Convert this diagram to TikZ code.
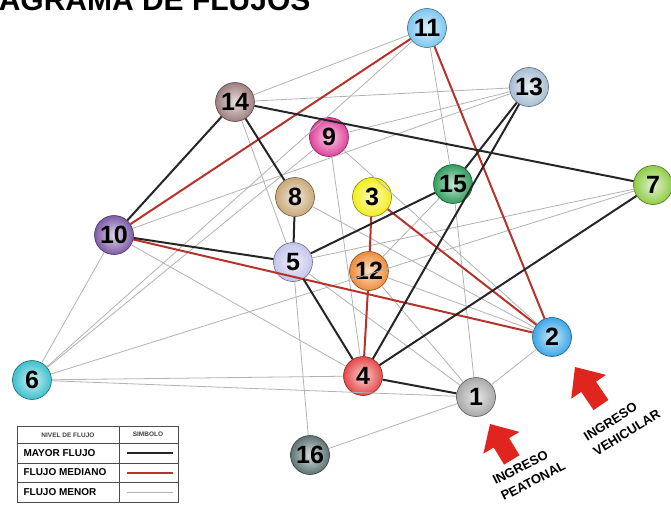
\documentclass[tikz,border=0pt]{standalone}
\usepackage{fontspec}
\setmainfont{Liberation Sans}

\definecolor{cUno}{HTML}{A8A8A8}
\definecolor{cDos}{HTML}{3BA7E6}
\definecolor{cTres}{HTML}{F2EE1A}
\definecolor{cCuatro}{HTML}{E54848}
\definecolor{cCinco}{HTML}{C4C4EC}
\definecolor{cSeis}{HTML}{3EC0CE}
\definecolor{cSiete}{HTML}{8FCC45}
\definecolor{cOcho}{HTML}{C9A878}
\definecolor{cNueve}{HTML}{E0429B}
\definecolor{cDiez}{HTML}{7E5CA6}
\definecolor{cOnce}{HTML}{7CC6F0}
\definecolor{cDoce}{HTML}{EE8C3C}
\definecolor{cTrece}{HTML}{A7BED2}
\definecolor{cCatorce}{HTML}{9E7E80}
\definecolor{cQuince}{HTML}{2E9E5C}
\definecolor{cDieciseis}{HTML}{5E7474}
\definecolor{rojoflujo}{HTML}{B8322C}
\definecolor{rojoflecha}{HTML}{E0241E}

\begin{document}
\begin{tikzpicture}[x=1pt,y=-1pt,
  esfera/.style={circle, minimum size=39pt, inner sep=0pt, shade,
    inner color=#1!25!white, outer color=#1, draw=#1!55!black, line width=0.6pt,
    font=\fontsize{25}{25}\selectfont\bfseries},
  mayor/.style={line width=2pt, black!85},
  mediano/.style={line width=2pt, rojoflujo},
  menor/.style={line width=0.8pt, black!30}]
\useasboundingbox (0,0) rectangle (671,506);

\node[anchor=base east, font=\fontsize{30}{30}\selectfont\bfseries] (titulo) at (314,10) {DIAGRAMA DE FLUJOS};

% nodos
\node[esfera=cUno] (n1) at (476,397) {1};
\node[esfera=cDos] (n2) at (552,337) {2};
\node[esfera=cTres] (n3) at (372,197) {3};
\node[esfera=cCuatro] (n4) at (363,376) {4};
\node[esfera=cCinco] (n5) at (293,262) {5};
\node[esfera=cSeis] (n6) at (32,380) {6};
\node[esfera=cSiete] (n7) at (653,185) {7};
\node[esfera=cOcho] (n8) at (295,197) {8};
\node[esfera=cNueve] (n9) at (329,137) {9};
\node[esfera=cDiez] (n10) at (114,235) {10};
\node[esfera=cOnce] (n11) at (427,28) {11};
\node[esfera=cDoce] (n12) at (369,271) {12};
\node[esfera=cTrece] (n13) at (529,87) {13};
\node[esfera=cCatorce] (n14) at (235,102) {14};
\node[esfera=cQuince] (n15) at (453,184) {15};
\node[esfera=cDieciseis] (n16) at (310,455) {16};

% flujo menor
\draw[menor] (n14) -- (n11);
\draw[menor] (n14) -- (n13);
\draw[menor] (n14) -- (n5);
\draw[menor] (n11) -- (n15);
\draw[menor] (n11) -- (n6);
\draw[menor] (n10) -- (n13);
\draw[menor] (n10) -- (n6);
\draw[menor] (n10) -- (n4);
\draw[menor] (n9) -- (n6);
\draw[menor] (n6) -- (n7);
\draw[menor] (n6) -- (n4);
\draw[menor] (n6) -- (n1);
\draw[menor] (n7) -- (n5);
\draw[menor] (n9) -- (n4);
\draw[menor] (n9) -- (n2);
\draw[menor] (n9) -- (n13);
\draw[menor] (n8) -- (n2);
\draw[menor] (n5) -- (n16);
\draw[menor] (n5) -- (n1);
\draw[menor] (n12) -- (n15);
\draw[menor] (n12) -- (n1);
\draw[menor] (n12) -- (n2);
\draw[menor] (n15) -- (n1);
\draw[menor] (n1) -- (n2);
\draw[menor] (n1) -- (n16);

% flujo mediano
\draw[mediano] (n10) -- (n11);
\draw[mediano] (n11) -- (n2);
\draw[mediano] (n10) -- (n2);
\draw[mediano] (n3) -- (n12);
\draw[mediano] (n12) -- (n4);
\draw[mediano] (n3) -- (n2);

% mayor flujo
\draw[mayor] (n14) -- (n10);
\draw[mayor] (n14) -- (n7);
\draw[mayor] (n14) -- (n8);
\draw[mayor] (n8) -- (n5);
\draw[mayor] (n10) -- (n5);
\draw[mayor] (n5) -- (n15);
\draw[mayor] (n5) -- (n4);
\draw[mayor] (n13) -- (n15);
\draw[mayor] (n13) -- (n4);
\draw[mayor] (n4) -- (n7);
\draw[mayor] (n4) -- (n1);

% ingresos
\fill[rojoflecha] (490,424) -- (519.4,431.9) -- (509.1,438.1) -- (519.5,455.2)
  -- (504.1,464.6) -- (493.7,447.5) -- (483.4,453.7) -- cycle;
\fill[rojoflecha] (575,367) -- (606.0,374.9) -- (596.0,381.7) -- (608.4,399.9)
  -- (593.6,410.1) -- (581.2,391.9) -- (571.2,398.7) -- cycle;
\node[rotate=27, align=left, font=\fontsize{13}{18}\selectfont\bfseries] (peatonal) at (529,473) {INGRESO\\PEATONAL};
\node[rotate=32, align=left, font=\fontsize{13}{18}\selectfont\bfseries] (vehicular) at (622,425) {INGRESO\\VEHICULAR};

% leyenda
\draw[black!70, line width=0.6pt] (17,426) rectangle (178,502);
\draw[black!70, line width=0.6pt] (17,443) -- (178,443) (17,463) -- (178,463)
  (17,482) -- (178,482) (119,426) -- (119,502);
\node[font=\fontsize{6.5}{7}\selectfont\bfseries, text=black!75] (nivel) at (68,435) {NIVEL DE FLUJO};
\node[font=\fontsize{6.5}{7}\selectfont\bfseries, text=black!75] (simbolo) at (148,434) {SIMBOLO};
\node[anchor=west, font=\fontsize{10}{11}\selectfont\bfseries] (lmayor) at (20,453) {MAYOR FLUJO};
\node[anchor=west, font=\fontsize{10}{11}\selectfont\bfseries] (lmediano) at (20,472.5) {FLUJO MEDIANO};
\node[anchor=west, font=\fontsize{10}{11}\selectfont\bfseries] (lmenor) at (20,492) {FLUJO MENOR};
\draw[mayor] (127,453) -- (173,453);
\draw[mediano] (127,472.5) -- (173,472.5);
\draw[menor] (127,492) -- (173,492);
\end{tikzpicture}
\end{document}
